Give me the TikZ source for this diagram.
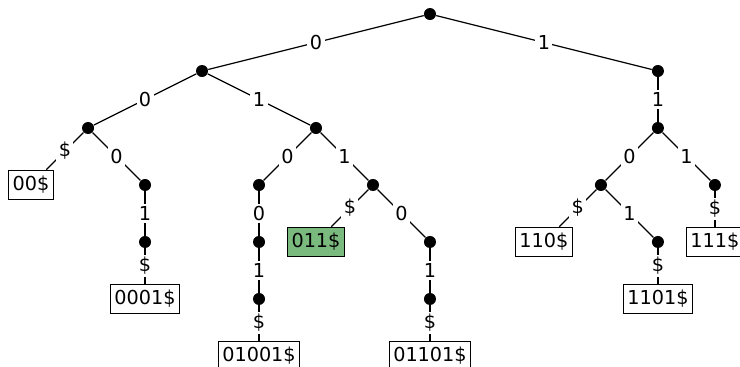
\documentclass[tikz,border=0pt]{standalone}
\usepackage{fontspec}
\newfontfamily\triefont{DejaVu Sans}

\tikzset{
  bit/.style={circle, fill=black, inner sep=0pt, minimum size=6pt},
  leafbox/.style={draw, line width=0.6pt, inner xsep=2pt, inner ysep=3pt, font=\triefont\fontsize{9.6}{11}\selectfont},
  lbl/.style={midway, fill=white, inner sep=1.2pt, font=\triefont\fontsize{9.6}{11}\selectfont},
  branch/.style={line width=0.6pt}
}

\begin{document}
\begin{tikzpicture}[y=1cm, x=1cm]

\definecolor{hitcolor}{RGB}{122, 186, 126}

\useasboundingbox (-0.545, 0.246) rectangle (12.44, -6.19);

% inner nodes
\node[bit] (r) at (7, 0) {};
\node[bit] (n0) at (3, -1) {};
\node[bit] (n1) at (11, -1) {};
\node[bit] (n00) at (1, -2) {};
\node[bit] (n01) at (5, -2) {};
\node[bit] (n11) at (11, -2) {};
\node[bit] (n000) at (2, -3) {};
\node[bit] (n010) at (4, -3) {};
\node[bit] (n011) at (6, -3) {};
\node[bit] (n110) at (10, -3) {};
\node[bit] (n111) at (12, -3) {};
\node[bit] (n0001) at (2, -4) {};
\node[bit] (n0100) at (4, -4) {};
\node[bit] (n0110) at (7, -4) {};
\node[bit] (n1101) at (11, -4) {};
\node[bit] (n01001) at (4, -5) {};
\node[bit] (n01101) at (7, -5) {};

% leaves
\node[leafbox] (l00) at (0, -3) {00\$};
\node[leafbox, fill=hitcolor] (l011) at (5, -4) {011\$};
\node[leafbox] (l110) at (9, -4) {110\$};
\node[leafbox] (l111) at (12, -4) {111\$};
\node[leafbox] (l0001) at (2, -5) {0001\$};
\node[leafbox] (l1101) at (11, -5) {1101\$};
\node[leafbox] (l01001) at (4, -6) {01001\$};
\node[leafbox] (l01101) at (7, -6) {01101\$};

% edges
\draw[branch] (r) -- (n0) node[lbl] {0};
\draw[branch] (r) -- (n1) node[lbl] {1};
\draw[branch] (n0) -- (n00) node[lbl] {0};
\draw[branch] (n0) -- (n01) node[lbl] {1};
\draw[branch] (n1) -- (n11) node[lbl] {1};
\draw[branch] (n00) -- (l00) node[lbl] {\$};
\draw[branch] (n00) -- (n000) node[lbl] {0};
\draw[branch] (n000) -- (n0001) node[lbl] {1};
\draw[branch] (n0001) -- (l0001) node[lbl] {\$};
\draw[branch] (n01) -- (n010) node[lbl] {0};
\draw[branch] (n01) -- (n011) node[lbl] {1};
\draw[branch] (n010) -- (n0100) node[lbl] {0};
\draw[branch] (n0100) -- (n01001) node[lbl] {1};
\draw[branch] (n01001) -- (l01001) node[lbl] {\$};
\draw[branch] (n011) -- (l011) node[lbl] {\$};
\draw[branch] (n011) -- (n0110) node[lbl] {0};
\draw[branch] (n0110) -- (n01101) node[lbl] {1};
\draw[branch] (n01101) -- (l01101) node[lbl] {\$};
\draw[branch] (n11) -- (n110) node[lbl] {0};
\draw[branch] (n11) -- (n111) node[lbl] {1};
\draw[branch] (n110) -- (l110) node[lbl] {\$};
\draw[branch] (n110) -- (n1101) node[lbl] {1};
\draw[branch] (n1101) -- (l1101) node[lbl] {\$};
\draw[branch] (n111) -- (l111) node[lbl] {\$};

\end{tikzpicture}
\end{document}
